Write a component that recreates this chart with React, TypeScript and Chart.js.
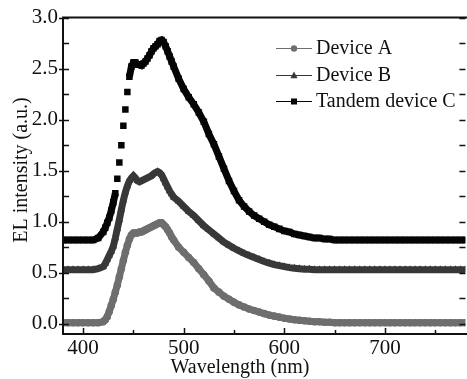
import { useEffect, useRef } from "react";
import { Chart, registerables } from "chart.js";

Chart.register(...registerables);

const FONT = '"Liberation Serif", "Times New Roman", serif';

// ---- data ----
const WAVELENGTH = [
  380, 385, 390, 395, 400, 405, 410, 415,
  420, 422, 424, 426, 428, 430, 432, 434, 436, 438, 440, 442, 444, 446, 448, 450,
  452, 454, 456, 458, 460, 462, 464, 466, 468, 470, 472, 474, 476, 478, 480, 482,
  484, 486, 488, 490,
  495, 500, 505, 510, 515, 520, 525, 530, 535, 540, 545, 550, 555, 560, 565, 570,
  575, 580, 585, 590, 595, 600, 605, 610, 615, 620, 625, 630, 635, 640, 645, 650,
  655, 660, 665, 670, 675, 680, 685, 690, 695, 700, 705, 710, 715, 720, 725, 730,
  735, 740, 745, 750, 755, 760, 765, 770, 775, 780,
];

const DEVICE_A = [
  0.01, 0.01, 0.01, 0.01, 0.01, 0.01, 0.01, 0.01,
  0.02, 0.04, 0.07, 0.12, 0.18, 0.24, 0.31, 0.38, 0.46, 0.54, 0.62, 0.70, 0.77, 0.83, 0.87, 0.89,
  0.89, 0.89, 0.90, 0.90, 0.91, 0.92, 0.93, 0.94, 0.95, 0.96, 0.97, 0.98, 0.99, 0.99, 0.97, 0.95,
  0.92, 0.89, 0.85, 0.82,
  0.75, 0.70, 0.65, 0.60, 0.54, 0.48, 0.42, 0.35, 0.31, 0.27, 0.24, 0.21, 0.185, 0.165, 0.145, 0.13,
  0.115, 0.10, 0.085, 0.075, 0.065, 0.055, 0.047, 0.04, 0.035, 0.03, 0.025, 0.02, 0.02, 0.015, 0.015, 0.01,
  0.01, 0.01, 0.01, 0.01, 0.01, 0.01, 0.01, 0.01, 0.01, 0.01, 0.01, 0.01, 0.01, 0.01, 0.01, 0.01,
  0.01, 0.01, 0.01, 0.01, 0.01, 0.01, 0.01, 0.01, 0.01, 0.01,
];

const DEVICE_B = [
  0.53, 0.53, 0.53, 0.53, 0.53, 0.53, 0.53, 0.54,
  0.56, 0.59, 0.63, 0.67, 0.71, 0.76, 0.84, 0.93, 1.02, 1.12, 1.21, 1.29, 1.35, 1.40, 1.43, 1.45,
  1.43, 1.40, 1.39, 1.40, 1.41, 1.42, 1.43, 1.44, 1.45, 1.47, 1.48, 1.49, 1.48, 1.46, 1.42, 1.38,
  1.34, 1.30, 1.27, 1.24,
  1.20, 1.15, 1.10, 1.06, 1.01, 0.96, 0.92, 0.88, 0.84, 0.80, 0.77, 0.74, 0.715, 0.69, 0.67, 0.65,
  0.63, 0.61, 0.595, 0.58, 0.57, 0.56, 0.55, 0.545, 0.54, 0.535, 0.535, 0.53, 0.53, 0.53, 0.53, 0.53,
  0.53, 0.53, 0.53, 0.53, 0.53, 0.53, 0.53, 0.53, 0.53, 0.53, 0.53, 0.53, 0.53, 0.53, 0.53, 0.53,
  0.53, 0.53, 0.53, 0.53, 0.53, 0.53, 0.53, 0.53, 0.53, 0.53,
];

const DEVICE_C = [
  0.82, 0.82, 0.82, 0.82, 0.82, 0.82, 0.82, 0.84,
  0.90, 0.94, 0.99, 1.04, 1.11, 1.19, 1.28, 1.42, 1.58, 1.75, 1.94, 2.10, 2.27, 2.42, 2.52, 2.56,
  2.56, 2.54, 2.54, 2.53, 2.55, 2.57, 2.60, 2.63, 2.67, 2.70, 2.72, 2.74, 2.77, 2.78, 2.76, 2.72,
  2.67, 2.62, 2.57, 2.52,
  2.40, 2.30, 2.22, 2.15, 2.07, 1.98, 1.86, 1.76, 1.64, 1.52, 1.40, 1.30, 1.21, 1.15, 1.10, 1.06,
  1.03, 1.00, 0.97, 0.95, 0.93, 0.91, 0.90, 0.88, 0.87, 0.86, 0.85, 0.84, 0.84, 0.83, 0.83, 0.82,
  0.82, 0.82, 0.82, 0.82, 0.82, 0.82, 0.82, 0.82, 0.82, 0.82, 0.82, 0.82, 0.82, 0.82, 0.82, 0.82,
  0.82, 0.82, 0.82, 0.82, 0.82, 0.82, 0.82, 0.82, 0.82, 0.82,
];

const SERIES_LABELS = ["Device A", "Device B", "Tandem device C"];
const X_TITLE = "Wavelength (nm)";
const Y_TITLE = "EL intensity (a.u.)";
const X_TICKS = [400, 500, 600, 700];
const X_MINOR_TICKS = [450, 550, 650, 750];
const Y_TICKS = [0, 0.5, 1.0, 1.5, 2.0, 2.5, 3.0];
const Y_MINOR_TICKS = [0.25, 0.75, 1.25, 1.75, 2.25, 2.75];

// ---- styles ----
const STYLES = [
  { color: "#6e6e6e", point: "circle", radius: 3.8 },
  { color: "#383838", point: "triangle", radius: 4.4 },
  { color: "#050505", point: "rect", radius: 4.6 },
];

const INK = "#111111";

function drawMarker(ctx: CanvasRenderingContext2D, kind: string, x: number, y: number, s: number) {
  ctx.beginPath();
  if (kind === "circle") {
    ctx.arc(x, y, s, 0, Math.PI * 2);
  } else if (kind === "triangle") {
    ctx.moveTo(x, y - s * 1.1);
    ctx.lineTo(x + s, y + s * 0.75);
    ctx.lineTo(x - s, y + s * 0.75);
    ctx.closePath();
  } else {
    ctx.rect(x - s, y - s, s * 2, s * 2);
  }
  ctx.fill();
}

const framePlugin = {
  id: "frame",
  afterDatasetsDraw(chart: any) {
    const { ctx, chartArea } = chart;
    const { left, right, top, bottom } = chartArea;
    const xs = chart.scales.x;
    const ys = chart.scales.y;
    ctx.save();
    ctx.strokeStyle = INK;
    ctx.lineWidth = 2;
    ctx.beginPath();
    ctx.moveTo(right + 2, top);
    ctx.lineTo(left, top);
    ctx.lineTo(left, bottom);
    ctx.lineTo(right + 2, bottom);
    ctx.stroke();
    ctx.lineWidth = 1.5;
    ctx.beginPath();
    for (const v of X_TICKS) {
      const p = Math.round(xs.getPixelForValue(v)) + 0.5;
      ctx.moveTo(p, bottom);
      ctx.lineTo(p, bottom - 6);
    }
    for (const v of X_MINOR_TICKS) {
      const p = Math.round(xs.getPixelForValue(v)) + 0.5;
      ctx.moveTo(p, bottom);
      ctx.lineTo(p, bottom - 4);
    }
    for (const v of Y_TICKS) {
      const p = Math.round(ys.getPixelForValue(v)) + 0.5;
      ctx.moveTo(left - 4, p);
      ctx.lineTo(left + 6, p);
      ctx.moveTo(right, p);
      ctx.lineTo(right - 6, p);
    }
    for (const v of Y_MINOR_TICKS) {
      const p = Math.round(ys.getPixelForValue(v)) + 0.5;
      ctx.moveTo(left, p);
      ctx.lineTo(left + 6, p);
      ctx.moveTo(right, p);
      ctx.lineTo(right - 6, p);
    }
    ctx.stroke();
    ctx.restore();
  },
};

const titlesPlugin = {
  id: "axisTitles",
  afterDraw(chart: any) {
    const { ctx } = chart;
    ctx.save();
    ctx.fillStyle = INK;
    ctx.font = `20px ${FONT}`;
    ctx.textAlign = "center";
    ctx.textBaseline = "alphabetic";
    ctx.fillText(X_TITLE, 240, 373);
    ctx.translate(26.5, 170);
    ctx.rotate(-Math.PI / 2);
    ctx.fillText(Y_TITLE, 0, 0);
    ctx.restore();
  },
};

const legendPlugin = {
  id: "insideLegend",
  afterDraw(chart: any) {
    const { ctx } = chart;
    const lineX0 = 276;
    const lineX1 = 312;
    const markX = 294;
    const textX = 316;
    const rows = [48, 75, 101];
    ctx.save();
    chart.data.datasets.forEach((ds: any, i: number) => {
      const y = rows[i];
      const st = STYLES[i];
      ctx.strokeStyle = st.color;
      ctx.lineWidth = 1.2;
      ctx.beginPath();
      ctx.moveTo(lineX0, y + 0.5);
      ctx.lineTo(lineX1, y + 0.5);
      ctx.stroke();
      ctx.fillStyle = st.color;
      drawMarker(ctx, st.point, markX, y + 0.5, st.point === "circle" ? 3.2 : st.point === "triangle" ? 3.6 : 3);
      ctx.fillStyle = INK;
      ctx.font = `20px ${FONT}`;
      ctx.textBaseline = "middle";
      ctx.textAlign = "left";
      ctx.fillText(ds.label, textX, y + 1);
    });
    ctx.restore();
  },
};

export default function App() {
  const ref = useRef<HTMLCanvasElement | null>(null);

  useEffect(() => {
    if (!ref.current) return;
    const series = [DEVICE_A, DEVICE_B, DEVICE_C];
    const chart = new Chart(ref.current, {
      type: "line",
      data: {
        datasets: series.map((vals, i) => {
          const st = STYLES[i];
          return {
            label: SERIES_LABELS[i],
            data: WAVELENGTH.map((w, j) => ({ x: w, y: vals[j] })),
            borderColor: st.color,
            backgroundColor: st.color,
            borderWidth: 7,
            pointStyle: st.point as any,
            pointRadius: st.radius,
            pointBorderWidth: 0,
            pointBackgroundColor: st.color,
            pointHoverRadius: st.radius,
            tension: 0,
            fill: false,
            segment: {
              borderColor: (c: any) => {
                const rising = c.p1.y < c.p0.y;
                const d = Math.hypot(c.p1.x - c.p0.x, c.p1.y - c.p0.y);
                return rising && d > 12 ? "rgba(0,0,0,0)" : st.color;
              },
            },
          };
        }),
      },
      options: {
        animation: false,
        responsive: false,
        devicePixelRatio: 1,
        layout: { padding: { top: 16, right: 2, left: 0, bottom: 0 } },
        plugins: {
          legend: { display: false },
          tooltip: { enabled: false },
        },
        events: [],
        scales: {
          x: {
            type: "linear",
            min: 380,
            max: 780,
            afterFit: (s: any) => {
              s.height = 45;
            },
            afterBuildTicks: (s: any) => {
              s.ticks = X_TICKS.map((v) => ({ value: v }));
            },
            grid: { display: false, drawTicks: false },
            border: { display: false },
            ticks: {
              font: { family: FONT, size: 21 },
              color: INK,
              padding: 2,
              maxRotation: 0,
              autoSkip: false,
            },
            title: { display: false },
          },
          y: {
            type: "linear",
            min: -0.1,
            max: 3.0,
            afterFit: (s: any) => {
              s.width = 63;
            },
            afterBuildTicks: (s: any) => {
              s.ticks = Y_TICKS.map((v) => ({ value: v }));
            },
            grid: { display: false, drawTicks: false },
            border: { display: false },
            ticks: {
              font: { family: FONT, size: 21 },
              color: INK,
              padding: 5,
              callback: (v: any) => Number(v).toFixed(1),
            },
            title: { display: false },
          },
        },
      },
      plugins: [framePlugin, legendPlugin, titlesPlugin],
    });
    return () => chart.destroy();
  }, []);

  return (
    <div
      style={{
        position: "fixed",
        left: 0,
        top: 0,
        width: 467,
        height: 379,
        overflow: "hidden",
        background: "#ffffff",
      }}
    >
      <canvas ref={ref} width={470} height={379} style={{ width: 470, height: 379, display: "block" }} />
    </div>
  );
}
